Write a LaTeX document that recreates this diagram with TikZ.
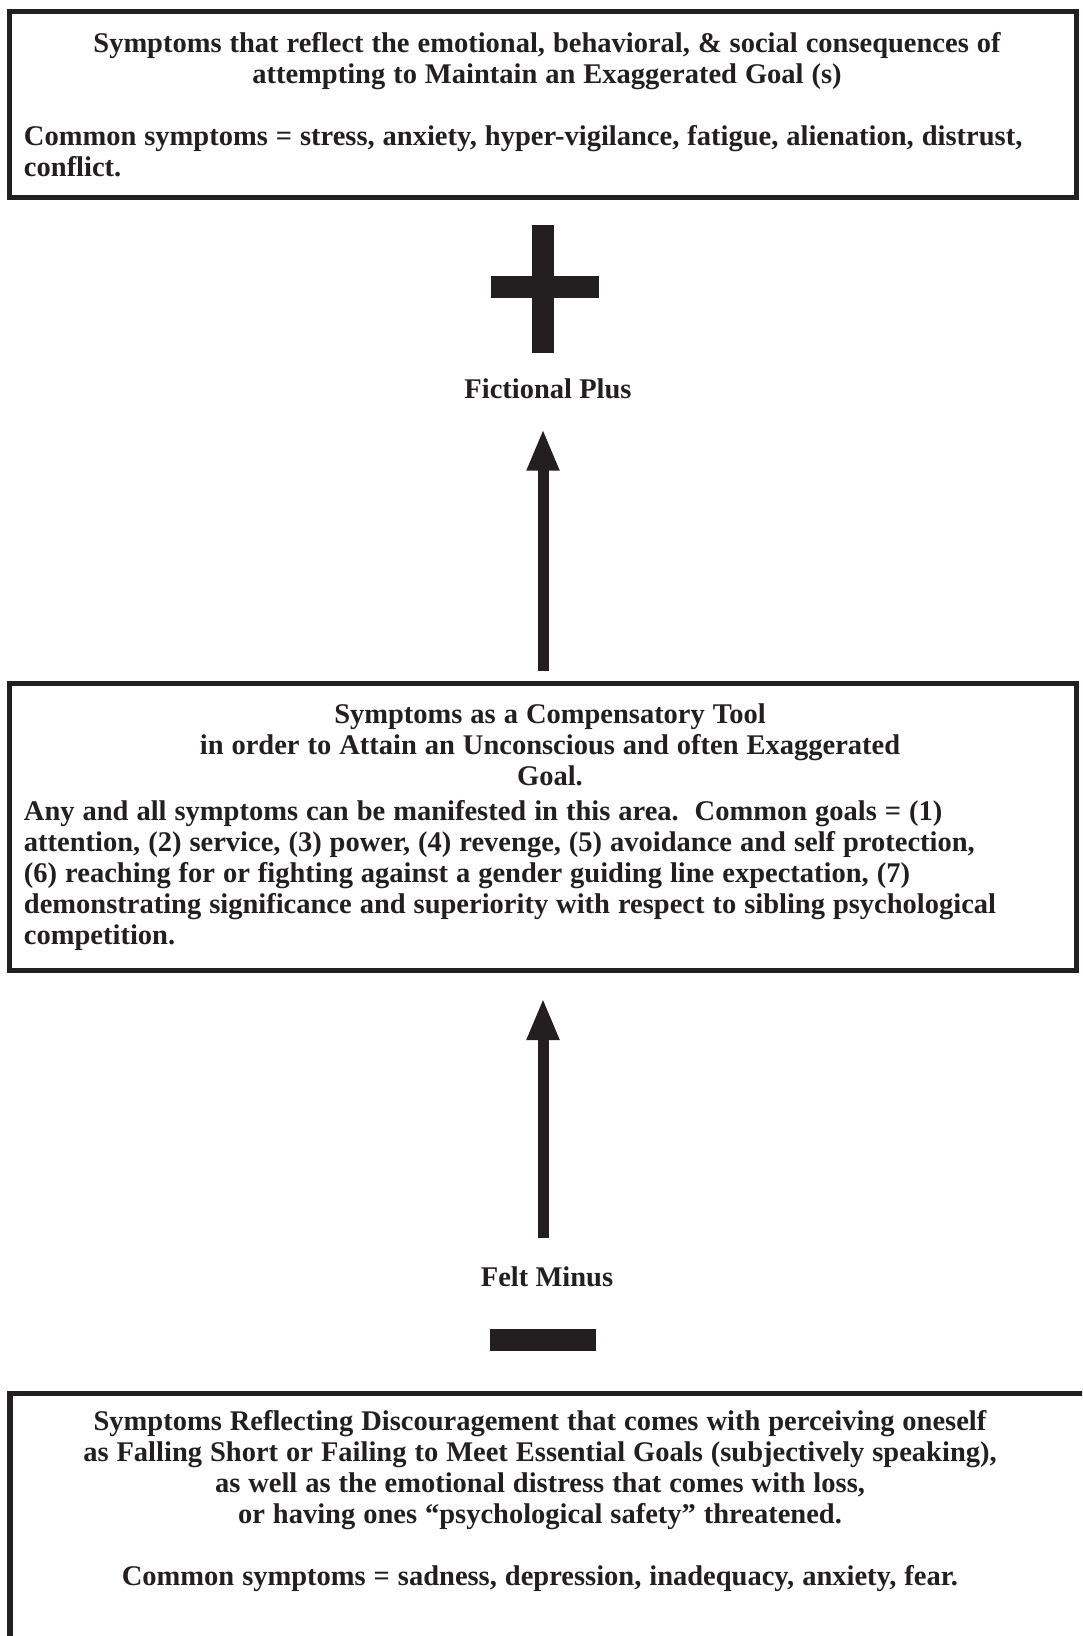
\documentclass[tikz,border=0pt]{standalone}
\usepackage{fontspec}
\setmainfont{Liberation Serif}
\usetikzlibrary{arrows.meta, positioning}
\definecolor{ink}{HTML}{231F20}
\frenchspacing

\begin{document}
\begin{tikzpicture}[
        x=0.5pt, y=-0.5pt,
        every node/.style={font=\fontsize{14.25pt}{15.5pt}\selectfont\bfseries, text=ink},
        box/.style={
            rectangle, draw=ink, line width=2.65pt, outer sep=0pt,
            minimum width=533.5pt, inner xsep=7.25pt, text width=519pt, align=left,
            execute at begin node={\spaceskip=0.28em\relax}
        },
        tag/.style={inner sep=0pt, anchor=base},
        frame/.style={draw=ink, line width=2.65pt},
        bar/.style={fill=ink},
        arrow/.style={-{Triangle[length=21pt, width=15pt]}, line width=5.5pt, draw=ink}
    ]
        \useasboundingbox (0,0) rectangle (1082,1636);
        \clip (0,0) rectangle (1082,1636);

        % Boxes
        \node[box, minimum height=93pt] (goalsym) at (543,104.5) {%
            {\centering\leftskip=4pt plus 1fil
            Symptoms that reflect the emotional, behavioral, \& social consequences of\\
            attempting to Maintain an Exaggerated Goal (s)\par}
            \vspace{15.5pt}
            Common symptoms = stress, anxiety, hyper-vigilance, fatigue, alienation, distrust,\\
            conflict.};
        \node[box, minimum height=143.5pt, below=243pt of goalsym] (tool) {%
            {\centering\leftskip=7pt plus 1fil
            Symptoms as a Compensatory Tool\\
            in order to Attain an Unconscious and often Exaggerated\\
            Goal.\par}
            \vspace{1.7pt}
            Any and all symptoms can be manifested in this area.\ \ Common goals = (1)\\
            attention, (2) service, (3) power, (4) revenge, (5) avoidance and self protection,\\
            (6) reaching for or fighting against a gender guiding line expectation, (7)\\
            demonstrating significance and superiority with respect to sibling psychological\\
            competition.};
        \node[outer sep=0pt, inner xsep=6.25pt, inner ysep=8.5pt, text width=517.5pt,
              align=center, anchor=north west,
              execute at begin node={\spaceskip=0.28em\relax}] (loss) at (10,1393.5) {%
            Symptoms Reflecting Discouragement that comes with perceiving oneself\\
            as Falling Short or Failing to Meet Essential Goals (subjectively speaking),\\
            as well as the emotional distress that comes with loss,\\
            or having ones “psychological safety” threatened.\\[15.5pt]
            Common symptoms = sadness, depression, inadequacy, anxiety, fear.};
        \draw[frame] ([xshift=600pt]loss.north west) -| ([yshift=-150pt]loss.north west);

        % Plus and minus
        \fill[bar] (532,225) rectangle (554,353);
        \fill[bar] (491,276) rectangle (599,298);
        \fill[bar] (490,1329) rectangle (596,1351);
        \node[tag] (plusl) at (548,399) {Fictional Plus};
        \node[tag] (minusl) at (547,1286) {Felt Minus};

        % Arrows
        \draw[arrow, shorten <=6.25pt, shorten >=14.5pt] (tool.north) -- (tool.north |- plusl.south);
        \draw[arrow, shorten <=13.85pt, shorten >=13.75pt] (tool.south |- minusl.north) -- (tool.south);
\end{tikzpicture}
\end{document}
